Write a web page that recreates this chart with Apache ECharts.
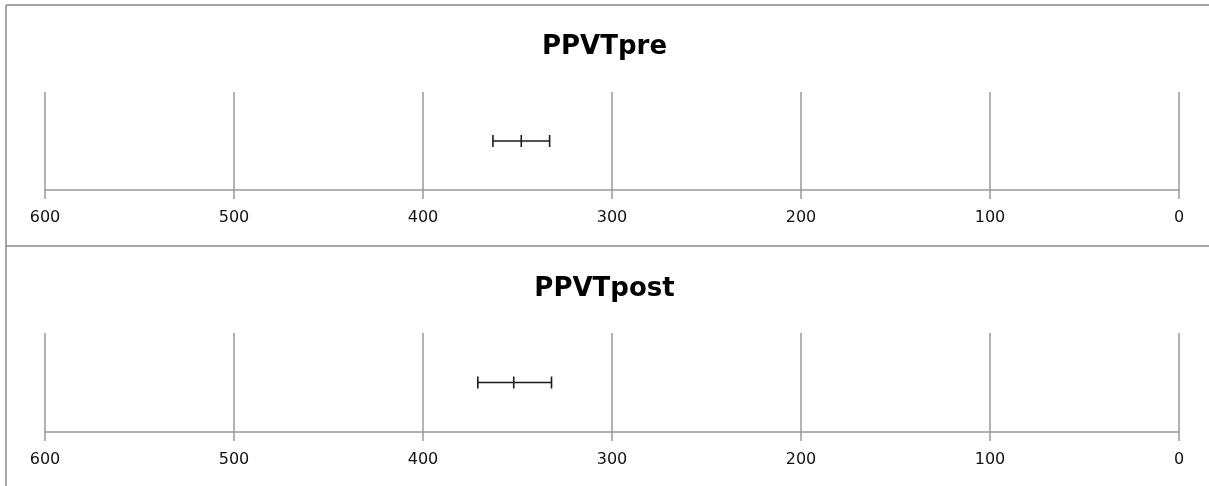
<!DOCTYPE html>
<html><head><meta charset="utf-8">
<script src="https://cdn.jsdelivr.net/npm/echarts@6/dist/echarts.min.js"></script>
<style>html,body{margin:0;padding:0;background:#fff}#c{width:1209px;height:486px}</style>
</head><body><div id="c"></div>
<script>
const panels = ["PPVTpre", "PPVTpost"];
const means = [348, 352];
const lows = [333, 332];
const highs = [363, 371];
const axisMin = 0, axisMax = 600, axisStep = 100;

const chart = echarts.init(document.getElementById('c'), null, {renderer: 'canvas'});
const gridTops = [92, 333];
const gridH = [98, 99];
const titleTops = [29, 271];

const grids = [], xAxes = [], yAxes = [], series = [], titles = [];
panels.forEach((name, i) => {
  grids.push({left: 45, right: 30, top: gridTops[i], height: gridH[i]});
  titles.push({text: name, left: 'center', top: titleTops[i],
    textStyle: {fontFamily: 'DejaVu Sans', fontWeight: 'bold', fontSize: 26, color: '#000'}});
  xAxes.push({type: 'value', gridIndex: i, min: axisMin, max: axisMax, interval: axisStep, inverse: true,
    axisLine: {show: true, lineStyle: {color: '#999', width: 1.5}},
    axisTick: {show: true, length: 9, lineStyle: {color: '#999', width: 1.5}},
    splitLine: {show: true, lineStyle: {color: '#999', width: 1.5}},
    axisLabel: {margin: 20, color: '#111', fontFamily: 'DejaVu Sans', fontSize: 16}});
  yAxes.push({type: 'value', gridIndex: i, min: 0, max: 1, show: false});
  series.push({type: 'custom', xAxisIndex: i, yAxisIndex: i,
    data: [[lows[i], highs[i], means[i]]],
    renderItem: function (params, api) {
      const lo = api.coord([api.value(0), 0.5]);
      const hi = api.coord([api.value(1), 0.5]);
      const md = api.coord([api.value(2), 0.5]);
      const h = 6;
      const st = {stroke: '#1a1a1a', lineWidth: 1.6};
      return {type: 'group', children: [
        {type: 'line', shape: {x1: lo[0], y1: lo[1], x2: hi[0], y2: hi[1]}, style: st},
        {type: 'line', shape: {x1: lo[0], y1: lo[1] - h, x2: lo[0], y2: lo[1] + h}, style: st},
        {type: 'line', shape: {x1: hi[0], y1: hi[1] - h, x2: hi[0], y2: hi[1] + h}, style: st},
        {type: 'line', shape: {x1: md[0], y1: md[1] - h, x2: md[0], y2: md[1] + h}, style: st}
      ]};
    }});
});

chart.setOption({
  animation: false,
  title: titles,
  grid: grids, xAxis: xAxes, yAxis: yAxes, series: series,
  graphic: [
    {type: 'line', shape: {x1: 6, y1: 5, x2: 1209, y2: 5}, style: {stroke: '#888', lineWidth: 1.5}},
    {type: 'line', shape: {x1: 6, y1: 5, x2: 6, y2: 486}, style: {stroke: '#888', lineWidth: 1.5}},
    {type: 'line', shape: {x1: 6, y1: 246, x2: 1209, y2: 246}, style: {stroke: '#888', lineWidth: 1.5}}
  ]
});
</script></body></html>
